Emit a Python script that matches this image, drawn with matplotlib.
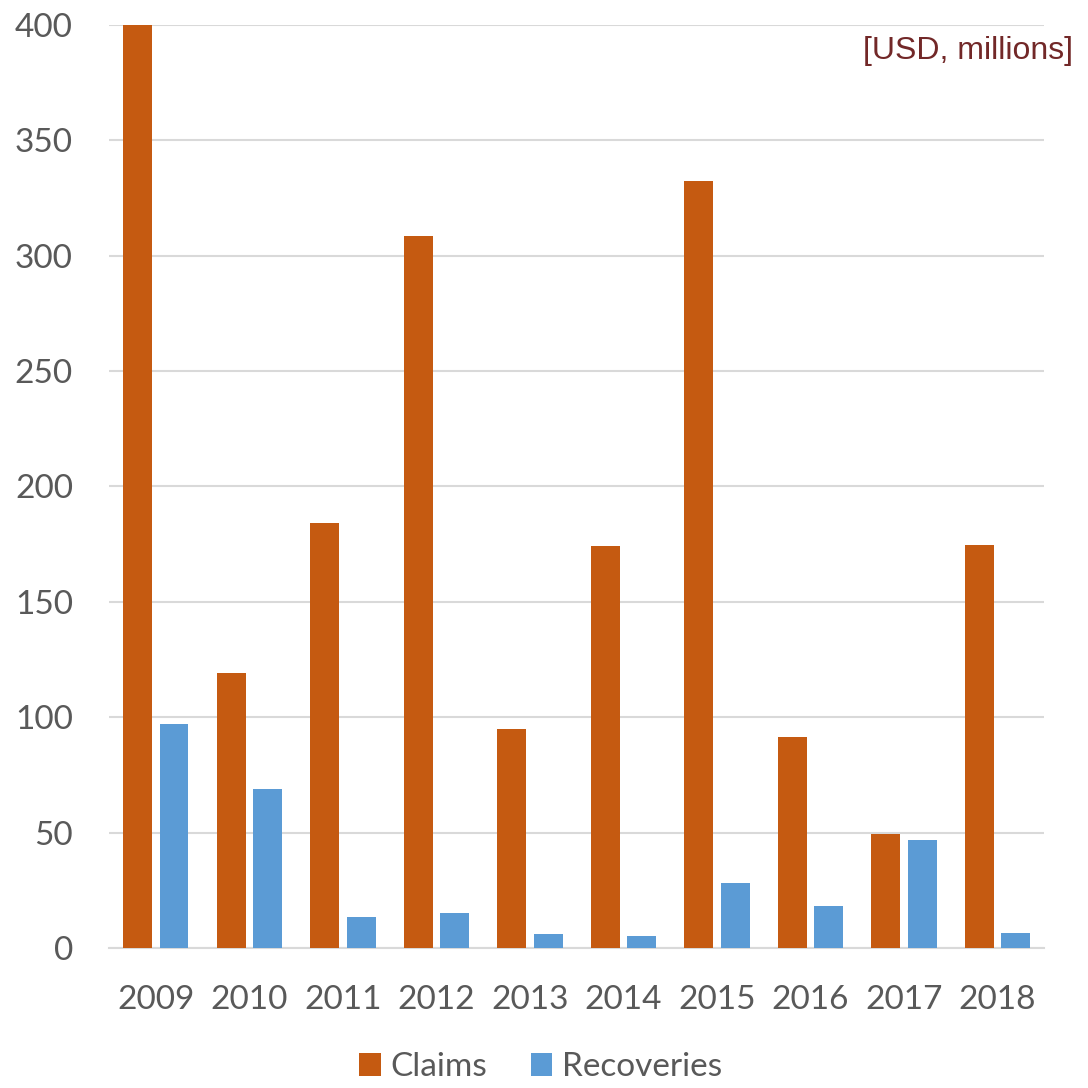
import numpy as np
import matplotlib.pyplot as plt

years = ['2009', '2010', '2011', '2012', '2013', '2014', '2015', '2016', '2017', '2018']
claims = [400, 119, 184, 308.5, 95, 174, 332.5, 91.5, 49.5, 174.5]
recoveries = [97, 69, 13.5, 15, 6, 5, 28, 18, 47, 6.5]

orange = '#c55a11'
blue = '#5b9bd5'
grey = '#595959'

plt.rcParams['font.family'] = ['Lato', 'DejaVu Sans']

fig = plt.figure(figsize=(10.88, 10.88), dpi=100)
ax = fig.add_axes([0.1002, 0.1287, 0.8594, 0.8483])

x = np.arange(len(years))
w = 0.31
ax.bar(x - 0.195, claims, w, color=orange, label='Claims', zorder=3)
ax.bar(x + 0.195, recoveries, w, color=blue, label='Recoveries', zorder=3)

ax.set_xlim(-0.5, len(years) - 0.5)
ax.set_ylim(0, 400)
ax.set_yticks(range(0, 401, 50))
ax.set_xticks(x)
ax.set_xticklabels(years)
ax.tick_params(axis='both', length=0, labelsize=24, colors=grey)
ax.tick_params(axis='y', pad=26)
ax.tick_params(axis='x', pad=27)
ax.grid(axis='y', color='#d9d9d9', linewidth=1.5, zorder=0)
for s in ['top', 'right', 'left']:
    ax.spines[s].set_visible(False)
ax.spines['bottom'].set_color('#d9d9d9')
ax.spines['bottom'].set_linewidth(1.5)

fig.text(0.986, 0.953, '[USD, millions]', ha='right', va='center',
         fontsize=23, color='#722828', family='Liberation Sans')

leg = fig.legend(loc='center', bbox_to_anchor=(0.497, 0.019), ncol=2, frameon=False,
                 fontsize=24, handlelength=0.65, handleheight=0.65, handletextpad=0.3,
                 columnspacing=1.3)
for t in leg.get_texts():
    t.set_color(grey)

fig.savefig('out.png', dpi=100)
